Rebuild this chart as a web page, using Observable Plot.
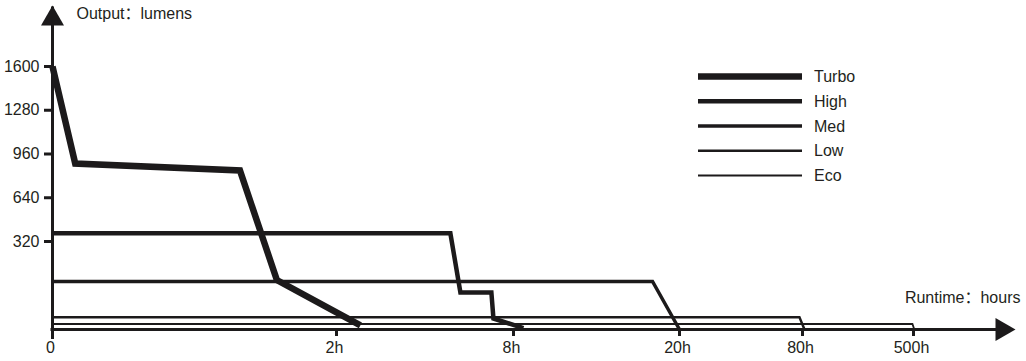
<!DOCTYPE html>
<html>
<head>
<meta charset="utf-8">
<script src="https://cdn.jsdelivr.net/npm/d3@7"></script>
<script src="https://cdn.jsdelivr.net/npm/@observablehq/plot@0.6"></script>
<style>
  html, body { margin: 0; padding: 0; background: #fff; }
  #wrap { position: relative; width: 1026px; height: 361px; overflow: hidden; }
  #wrap svg { display: block; }
  #legend { position: absolute; left: 0; top: 0; pointer-events: none; }
</style>
</head>
<body>
<div id="wrap"></div>
<script>
// ---- data ----
const modes = ["Turbo", "High", "Med", "Low", "Eco"];
const turboHours = [0, 0.16, 1.32, 1.58, 2.81];
const turboLumens = [1600, 890, 840, 180, 15];
const highHours = [0, 5.86, 6.2, 7.25, 7.32, 8.72];
const highLumens = [380, 380, 135, 135, 40, 5];
const medHours = [0, 18.05, 20];
const medLumens = [175, 175, 0];
const lowHours = [0, 78.5, 87.6];
const lowLumens = [45, 45, 0];
const ecoHours = [0, 496, 504];
const ecoLumens = [20, 20, 0];
const xTickValues = [0, 2, 8, 20, 80, 500];
const xTickLabels = ["0", "2h", "8h", "20h", "80h", "500h"];
const yTickValues = [320, 640, 960, 1280, 1600];
const yTitle = "Output：lumens";
const xTitle = "Runtime：hours";

// ---- styling ----
const ink = "#1c1a1b";
const textInk = "#231f20";
const font = "'Liberation Sans', Arial, 'Noto Sans CJK SC', sans-serif";
const widths = [6.5, 4.5, 3.5, 2.5, 1.8];
const xEnd = 1000;   // value at the arrow tip of the x axis
const yEnd = 2000;   // value at the arrow tip of the y axis

const seriesData = [
  [turboHours, turboLumens],
  [highHours, highLumens],
  [medHours, medLumens],
  [lowHours, lowLumens],
  [ecoHours, ecoLumens]
].map(([xs, ys], k) => xs.map((x, i) => ({mode: modes[k], hours: x, lumens: ys[i]})));

// custom arrow-head symbols (tip at the origin)
const arrowRight = {draw(ctx) { ctx.moveTo(0, 0); ctx.lineTo(-20, -11.5); ctx.lineTo(-20, 11.5); ctx.closePath(); }};
const arrowUp = {draw(ctx) { ctx.moveTo(0, 0); ctx.lineTo(-11.5, 20); ctx.lineTo(11.5, 20); ctx.closePath(); }};

const lineMarks = seriesData.map((d, k) =>
  Plot.line(d, {x: "hours", y: "lumens", stroke: ink, strokeWidth: widths[k],
    strokeLinejoin: "miter", strokeLinecap: "butt", strokeMiterlimit: 10}));

const chart = Plot.plot({
  width: 1026,
  height: 361,
  marginLeft: 52, marginRight: 11, marginTop: 5, marginBottom: 32,
  style: {fontFamily: font, fontSize: "16px", color: textInk, background: "#fff"},
  x: {type: "linear", domain: [0, 2, 8, 20, 80, 500, xEnd], range: [52, 336, 513, 679, 802, 913, 1015], axis: null},
  y: {type: "linear", domain: [0, 320, 1600, yEnd], range: [329, 241, 66, 5], axis: null},
  marks: [
    ...lineMarks,
    // axes lines
    Plot.ruleY([0], {x1: () => 0, x2: () => xEnd, stroke: ink, strokeWidth: 3, insetRight: 10, insetLeft: -1.5}),
    Plot.ruleX([0], {y1: () => 0, y2: () => yEnd, stroke: ink, strokeWidth: 3, insetTop: 10, insetBottom: -1.5}),
    Plot.dot([xEnd], {x: d => d, y: () => 0, symbol: arrowRight, fill: ink, stroke: "none"}),
    Plot.dot([yEnd], {x: () => 0, y: d => d, symbol: arrowUp, fill: ink, stroke: "none"}),
    // ticks
    Plot.ruleX(xTickValues.slice(1), {x: d => d, y1: () => 0, y2: () => 0, insetBottom: -7, stroke: ink, strokeWidth: 3}),
    Plot.ruleY(yTickValues, {y: d => d, x1: () => 0, x2: () => 0, insetLeft: -8, stroke: ink, strokeWidth: 3}),
    // tick labels
    Plot.text(xTickValues, {x: d => d, y: () => 0, text: (d, i) => xTickLabels[i], dy: 18, dx: -2, fill: textInk, fontSize: 16}),
    Plot.text(yTickValues, {x: () => 0, y: d => d, text: d => String(d), textAnchor: "end", dx: -13, fill: textInk, fontSize: 16}),
    // axis titles
    Plot.text([yTitle], {x: () => 0, y: () => yEnd, text: d => d, textAnchor: "start", dx: 24, dy: 8, fill: textInk, fontSize: 16}),
    Plot.text([xTitle], {x: () => xEnd, y: () => 0, text: d => d, textAnchor: "end", dx: 5, dy: -32, fill: textInk, fontSize: 16})
  ]
});
document.getElementById("wrap").appendChild(chart);

// ---- legend overlay ----
const leg = d3.select("#wrap").append("svg").attr("id", "legend")
  .attr("width", 1026).attr("height", 361);
const g = leg.selectAll("g").data(modes).join("g")
  .attr("transform", (d, i) => `translate(698, ${76.5 + 24.75 * i})`);
g.append("line").attr("x1", 0).attr("x2", 104).attr("y1", 0).attr("y2", 0)
  .attr("stroke", ink).attr("stroke-width", (d, i) => widths[i]);
g.append("text").attr("x", 116).attr("y", 0).attr("dy", "0.35em")
  .attr("fill", textInk).style("font-family", font).style("font-size", "16px")
  .text(d => d);
</script>
</body>
</html>
